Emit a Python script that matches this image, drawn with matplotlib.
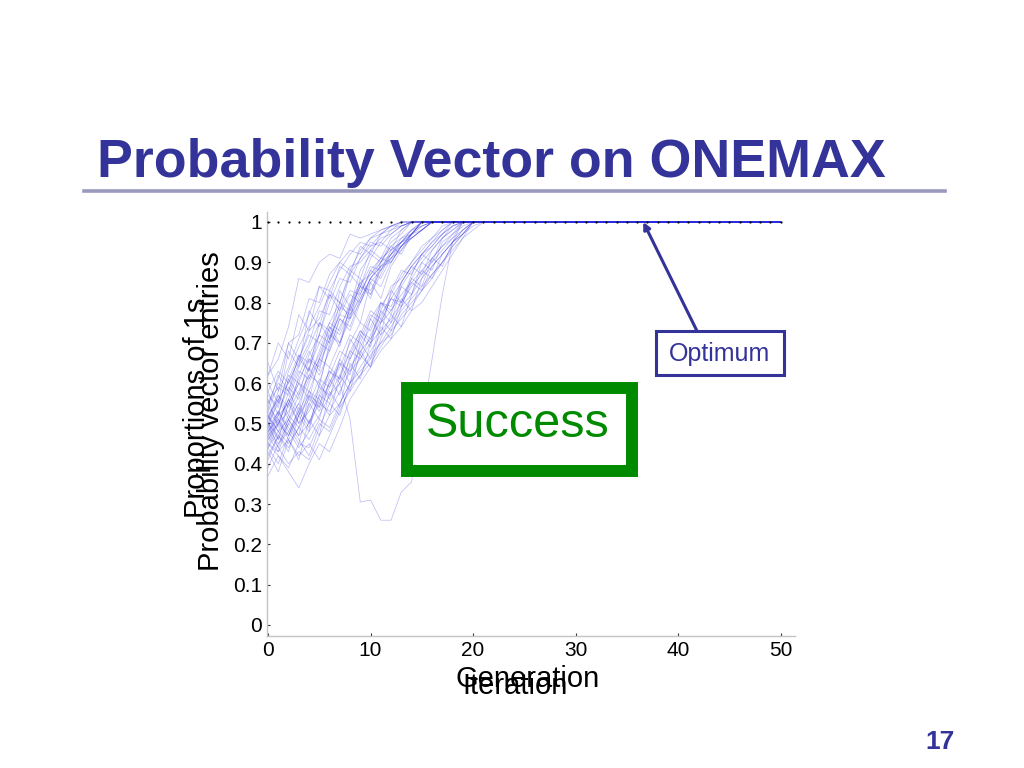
import numpy as np
import matplotlib.pyplot as plt
from matplotlib.patches import Rectangle

plt.rcParams['font.family'] = ['Liberation Sans', 'DejaVu Sans']

# ------------------------------------------------------------
# Data: probability-vector entries per generation
# each list runs until the entry reaches 1, then it stays there
# ------------------------------------------------------------
generations = np.arange(0, 51)
optimum_level = 1.0

fast = [
    [0.62, 0.66, 0.74, 0.86, 0.85, 0.90, 0.92, 0.91, 0.97, 0.96, 0.97, 0.98, 0.99, 1.0],
    [0.55, 0.61, 0.70, 0.72, 0.81, 0.80, 0.87, 0.90, 0.93, 0.92, 0.96, 0.97, 0.98, 1.0],
    [0.51, 0.58, 0.64, 0.71, 0.77, 0.84, 0.83, 0.88, 0.92, 0.95, 0.94, 0.97, 0.99, 1.0],
    [0.57, 0.54, 0.63, 0.69, 0.74, 0.79, 0.85, 0.90, 0.88, 0.93, 0.96, 0.98, 0.99, 0.99, 1.0],
    [0.49, 0.56, 0.60, 0.66, 0.73, 0.76, 0.82, 0.80, 0.87, 0.91, 0.94, 0.95, 0.98, 0.99, 1.0],
    [0.53, 0.60, 0.58, 0.65, 0.70, 0.78, 0.77, 0.84, 0.89, 0.90, 0.93, 0.96, 0.97, 0.99, 1.0],
    [0.46, 0.52, 0.61, 0.67, 0.65, 0.72, 0.80, 0.86, 0.85, 0.91, 0.95, 0.94, 0.97, 0.99, 1.0],
    [0.60, 0.55, 0.68, 0.64, 0.78, 0.74, 0.83, 0.80, 0.88, 0.86, 0.93, 0.91, 0.96, 0.98, 1.0],
    [0.65, 0.58, 0.70, 0.66, 0.63, 0.75, 0.71, 0.83, 0.79, 0.88, 0.92, 0.90, 0.95, 0.97, 1.0],
    [0.54, 0.62, 0.58, 0.67, 0.63, 0.72, 0.82, 0.78, 0.87, 0.84, 0.91, 0.95, 0.93, 0.98, 1.0],
    [0.62, 0.70, 0.66, 0.77, 0.73, 0.84, 0.81, 0.89, 0.87, 0.94, 0.92, 0.97, 0.99, 1.0],
]
medium = [
    [0.50, 0.55, 0.62, 0.60, 0.67, 0.72, 0.70, 0.78, 0.83, 0.82, 0.88, 0.91, 0.93, 0.95, 0.98, 1.0],
    [0.47, 0.50, 0.56, 0.63, 0.61, 0.68, 0.75, 0.73, 0.80, 0.85, 0.87, 0.90, 0.94, 0.96, 0.97, 1.0],
    [0.52, 0.48, 0.55, 0.61, 0.66, 0.64, 0.71, 0.77, 0.82, 0.80, 0.86, 0.90, 0.92, 0.95, 0.98, 0.99, 1.0],
    [0.58, 0.63, 0.60, 0.66, 0.72, 0.70, 0.75, 0.80, 0.78, 0.84, 0.89, 0.88, 0.93, 0.95, 0.97, 0.99, 1.0],
    [0.44, 0.50, 0.53, 0.58, 0.64, 0.70, 0.68, 0.74, 0.79, 0.84, 0.83, 0.88, 0.91, 0.94, 0.96, 0.98, 1.0],
    [0.50, 0.46, 0.51, 0.57, 0.62, 0.60, 0.69, 0.76, 0.74, 0.81, 0.86, 0.89, 0.90, 0.94, 0.97, 0.98, 1.0],
    [0.55, 0.59, 0.57, 0.64, 0.69, 0.75, 0.73, 0.79, 0.77, 0.83, 0.87, 0.91, 0.90, 0.94, 0.97, 1.0],
    [0.48, 0.53, 0.59, 0.56, 0.62, 0.67, 0.74, 0.72, 0.78, 0.84, 0.82, 0.87, 0.92, 0.95, 0.96, 0.98, 1.0],
    [0.51, 0.57, 0.54, 0.60, 0.58, 0.65, 0.71, 0.77, 0.76, 0.82, 0.88, 0.86, 0.91, 0.93, 0.97, 0.99, 1.0],
    [0.45, 0.43, 0.50, 0.55, 0.61, 0.66, 0.64, 0.70, 0.76, 0.80, 0.85, 0.88, 0.92, 0.94, 0.96, 0.98, 1.0],
    [0.53, 0.50, 0.56, 0.52, 0.60, 0.66, 0.72, 0.70, 0.77, 0.81, 0.86, 0.89, 0.91, 0.95, 0.97, 1.0],
    [0.56, 0.49, 0.58, 0.53, 0.64, 0.59, 0.70, 0.80, 0.76, 0.86, 0.82, 0.90, 0.94, 0.92, 0.97, 1.0],
    [0.50, 0.57, 0.52, 0.62, 0.68, 0.63, 0.73, 0.69, 0.79, 0.75, 0.85, 0.81, 0.89, 0.93, 0.96, 0.98, 1.0],
    [0.58, 0.52, 0.61, 0.57, 0.66, 0.62, 0.68, 0.76, 0.73, 0.80, 0.86, 0.84, 0.90, 0.94, 0.97, 1.0],
    [0.52, 0.46, 0.55, 0.60, 0.56, 0.66, 0.74, 0.70, 0.79, 0.85, 0.81, 0.89, 0.92, 0.96, 0.98, 1.0],
]
slower = [
    [0.49, 0.45, 0.48, 0.53, 0.58, 0.56, 0.62, 0.68, 0.66, 0.72, 0.78, 0.76, 0.82, 0.87, 0.90, 0.93, 0.96, 0.98, 1.0],
    [0.52, 0.56, 0.51, 0.55, 0.50, 0.57, 0.63, 0.61, 0.68, 0.73, 0.71, 0.78, 0.84, 0.86, 0.90, 0.94, 0.96, 0.99, 1.0],
    [0.46, 0.50, 0.47, 0.52, 0.57, 0.55, 0.60, 0.66, 0.72, 0.70, 0.76, 0.80, 0.79, 0.85, 0.89, 0.92, 0.95, 0.97, 1.0],
    [0.50, 0.47, 0.52, 0.49, 0.55, 0.61, 0.59, 0.64, 0.70, 0.75, 0.73, 0.79, 0.83, 0.88, 0.87, 0.92, 0.95, 0.98, 1.0],
    [0.54, 0.51, 0.46, 0.52, 0.56, 0.54, 0.60, 0.65, 0.63, 0.69, 0.74, 0.80, 0.78, 0.84, 0.88, 0.91, 0.94, 0.97, 0.99, 1.0],
    [0.42, 0.47, 0.44, 0.49, 0.54, 0.59, 0.57, 0.62, 0.68, 0.66, 0.72, 0.77, 0.81, 0.80, 0.86, 0.90, 0.93, 0.96, 0.98, 1.0],
    [0.48, 0.52, 0.55, 0.50, 0.53, 0.58, 0.63, 0.60, 0.66, 0.71, 0.77, 0.75, 0.81, 0.85, 0.89, 0.92, 0.94, 0.97, 0.99, 1.0],
    [0.41, 0.47, 0.43, 0.52, 0.48, 0.60, 0.56, 0.66, 0.62, 0.72, 0.69, 0.78, 0.75, 0.84, 0.82, 0.90, 0.88, 0.95, 0.97, 1.0],
    [0.47, 0.53, 0.49, 0.45, 0.55, 0.51, 0.61, 0.57, 0.67, 0.73, 0.70, 0.80, 0.77, 0.85, 0.89, 0.87, 0.93, 0.96, 0.99, 1.0],
    [0.45, 0.51, 0.56, 0.50, 0.58, 0.54, 0.64, 0.61, 0.71, 0.67, 0.76, 0.72, 0.83, 0.80, 0.87, 0.92, 0.90, 0.96, 0.98, 1.0],
]
slow = [
    [0.45, 0.42, 0.38, 0.34, 0.40, 0.45, 0.43, 0.49, 0.56, 0.60, 0.64, 0.68, 0.71, 0.74, 0.78, 0.80, 0.84, 0.88, 0.92, 0.96, 1.0],
    [0.50, 0.44, 0.40, 0.43, 0.41, 0.47, 0.52, 0.55, 0.60, 0.63, 0.66, 0.70, 0.72, 0.77, 0.80, 0.83, 0.87, 0.90, 0.94, 0.97, 1.0],
    [0.37, 0.42, 0.39, 0.45, 0.44, 0.50, 0.48, 0.54, 0.58, 0.62, 0.65, 0.69, 0.73, 0.76, 0.79, 0.83, 0.86, 0.90, 0.93, 0.96, 0.98, 1.0],
    [0.47, 0.43, 0.46, 0.42, 0.45, 0.41, 0.47, 0.53, 0.59, 0.62, 0.67, 0.70, 0.74, 0.78, 0.81, 0.84, 0.87, 0.90, 0.94, 0.97, 1.0],
    [0.52, 0.48, 0.45, 0.49, 0.46, 0.51, 0.49, 0.55, 0.60, 0.64, 0.68, 0.72, 0.75, 0.79, 0.82, 0.86, 0.89, 0.92, 0.95, 0.98, 1.0],
    [0.44, 0.48, 0.51, 0.47, 0.50, 0.55, 0.53, 0.58, 0.63, 0.66, 0.70, 0.73, 0.76, 0.80, 0.84, 0.87, 0.90, 0.93, 0.96, 1.0],
    [0.49, 0.53, 0.48, 0.44, 0.48, 0.52, 0.57, 0.60, 0.64, 0.68, 0.71, 0.75, 0.78, 0.82, 0.85, 0.88, 0.91, 0.94, 0.96, 0.98, 1.0],
    [0.43, 0.38, 0.46, 0.41, 0.51, 0.47, 0.58, 0.54, 0.65, 0.61, 0.70, 0.76, 0.73, 0.81, 0.78, 0.86, 0.91, 0.89, 0.95, 0.98, 1.0],
    [0.39, 0.45, 0.50, 0.46, 0.42, 0.49, 0.55, 0.52, 0.60, 0.67, 0.64, 0.71, 0.77, 0.74, 0.82, 0.88, 0.86, 0.92, 0.95, 0.97, 1.0],
    [0.48, 0.44, 0.51, 0.47, 0.57, 0.53, 0.59, 0.65, 0.60, 0.70, 0.66, 0.75, 0.81, 0.79, 0.86, 0.84, 0.91, 0.94, 0.97, 0.99, 1.0],
    [0.44, 0.40, 0.47, 0.53, 0.49, 0.56, 0.52, 0.62, 0.58, 0.68, 0.64, 0.74, 0.71, 0.79, 0.85, 0.83, 0.89, 0.92, 0.95, 0.97, 0.99, 1.0],
]
# the one entry that drifts down before recovering
outlier = [0.48, 0.51, 0.47, 0.54, 0.50, 0.57, 0.55, 0.60, 0.51, 0.305, 0.31, 0.26, 0.26,
           0.33, 0.355, 0.50, 0.66, 0.82, 0.95, 1.0]

all_entries = fast + medium + slower + slow + [outlier]

y_ticks = [0, 0.1, 0.2, 0.3, 0.4, 0.5, 0.6, 0.7, 0.8, 0.9, 1]
y_tick_labels = ['0', '0.1', '0.2', '0.3', '0.4', '0.5', '0.6', '0.7', '0.8', '0.9', '1']
x_ticks = [0, 10, 20, 30, 40, 50]

navy = '#333399'
green = '#008a00'

# ------------------------------------------------------------
# Figure
# ------------------------------------------------------------
W, H = 1024, 768
fig = plt.figure(figsize=(W / 100, H / 100), dpi=100)

def fx(px):
    return px / W

def fy(py):
    return 1 - py / H

ax = fig.add_axes([fx(267), fy(636), 528 / W, 424 / H])

for entry in all_entries:
    vals = np.concatenate([entry, np.full(len(generations) - len(entry), optimum_level)])
    ax.plot(generations, vals, color='#2a2ae0', alpha=0.3, lw=0.55)

ax.plot(generations, np.full(len(generations), optimum_level), linestyle='none',
        marker='o', ms=1.6, mew=0, color='black', zorder=3)

ax.set_xlim(-0.1, 51.4)
ax.set_ylim(-0.0273, 1.0248)
ax.set_xticks(x_ticks)
ax.set_yticks(y_ticks)
ax.set_yticklabels(y_tick_labels)
ax.tick_params(direction='in', length=2.5, width=0.8, labelsize=15, color='#333333')
for side in ['top', 'right']:
    ax.spines[side].set_visible(False)
for side in ['left', 'bottom']:
    ax.spines[side].set_color('#c4c4c4')
    ax.spines[side].set_linewidth(1.0)

# overlapping axis labels (two labels drawn on top of each other)
fig.text(fx(528), fy(687), 'Generation', fontsize=21, ha='center', va='baseline')
fig.text(fx(515), fy(694), 'Iteration', fontsize=21, ha='center', va='baseline')
fig.text(fx(197), fy(408), 'Proportions of 1s', fontsize=21, rotation=90,
         ha='center', va='center')
fig.text(fx(211), fy(411), 'Probability vector entries', fontsize=21, rotation=90,
         ha='center', va='center')

# slide title and rule
fig.text(fx(97), fy(177), 'Probability Vector on ONEMAX', fontsize=38.7,
         fontweight='bold', color=navy, ha='left', va='baseline')
fig.add_artist(plt.Line2D([fx(84), fx(945)], [fy(191), fy(191)],
                          color='#9a9abf', lw=2.6, transform=fig.transFigure))

# Optimum callout
fig.add_artist(Rectangle((fx(656), fy(375)), (784 - 656) / W, (375 - 331) / H,
                         fill=False, edgecolor=navy, lw=2.2, transform=fig.transFigure))
fig.text(fx(720), fy(354), 'Optimum', fontsize=18, color=navy, ha='center', va='center')
ax.annotate('', xy=(36.6, optimum_level), xycoords='data',
            xytext=(fx(697), fy(331)), textcoords='figure fraction',
            arrowprops=dict(arrowstyle='-|>', color=navy, lw=2.2,
                            mutation_scale=10, shrinkA=0, shrinkB=0))

# Success box
fig.add_artist(Rectangle((fx(406.5), fy(470.5)), (631.5 - 406.5) / W, (470.5 - 388) / H,
                         fill=True, facecolor='white', edgecolor=green, lw=8.6,
                         transform=fig.transFigure, zorder=5))
fig.text(fx(517.5), fy(437), 'Success', fontsize=35, color=green,
         ha='center', va='baseline', zorder=6)

# page number
fig.text(fx(955), fy(749), '17', fontsize=19, fontweight='bold', color=navy,
         ha='right', va='baseline')

fig.savefig('out.png', dpi=100)
